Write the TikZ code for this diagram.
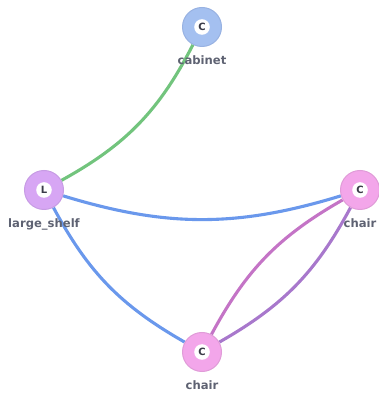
\documentclass[tikz,border=0pt]{standalone}
\usepackage{fontspec}
\setmainfont{DejaVu Sans}
\usetikzlibrary{backgrounds}

\definecolor{cabfill}{HTML}{A4C0F0}
\definecolor{cabline}{HTML}{98B2E2}
\definecolor{shelffill}{HTML}{D7A6F4}
\definecolor{shelfline}{HTML}{C79CE4}
\definecolor{chairfill}{HTML}{F3A6EA}
\definecolor{chairline}{HTML}{E09CD8}
\definecolor{namegray}{HTML}{5E6272}
\definecolor{lettergray}{HTML}{3A3B48}
\definecolor{greenlink}{HTML}{72C47D}
\definecolor{bluelink}{HTML}{6A98EC}
\definecolor{pinklink}{HTML}{C474C6}
\definecolor{purplelink}{HTML}{A878CC}

\begin{document}
\begin{tikzpicture}[x=1pt, y=1pt,
    obj/.style args={#1/#2}{circle, minimum size=39pt, inner sep=0pt,
      fill=#1, draw=#2, line width=1pt, text=lettergray,
      font=\fontsize{10}{11}\selectfont\bfseries,
      path picture={\fill[white] (path picture bounding box.center) circle (7.8pt);}},
    objname/.style={text=namegray, font=\fontsize{11.6}{13}\selectfont\bfseries},
    link/.style={line width=3.1pt}]
  \useasboundingbox (0,0) rectangle (378,395);

  \node[obj=cabfill/cabline, label={[objname, label distance=5pt]below:cabinet}] (cabinet) at (202,368) {C};
  \node[obj=shelffill/shelfline, label={[objname, label distance=5pt]below:large\_shelf}] (shelf) at (44,205) {L};
  \node[obj=chairfill/chairline, label={[objname, label distance=5pt]below:chair}] (chairR) at (360,205) {C};
  \node[obj=chairfill/chairline, label={[objname, label distance=5pt]below:chair}] (chairB) at (202,43) {C};

  \begin{scope}[on background layer]
    \draw[link, greenlink] (cabinet) to[bend left=17] (shelf);
    \draw[link, bluelink] (shelf) to[bend right=17] (chairR);
    \draw[link, bluelink] (shelf) to[bend right=16] (chairB);
    \draw[link, pinklink] (chairR) to[bend right=16] (chairB);
    \draw[link, purplelink] (chairR) to[bend left=16] (chairB);
  \end{scope}
\end{tikzpicture}
\end{document}
